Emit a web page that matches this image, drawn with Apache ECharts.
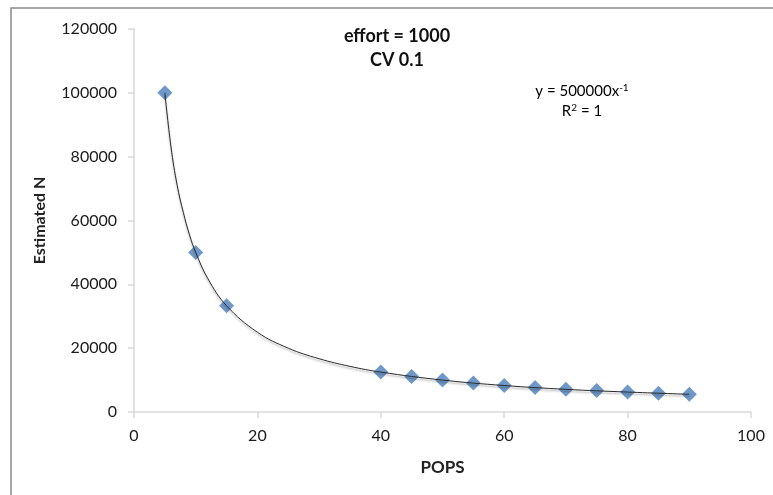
<!DOCTYPE html>
<html>
<head>
<meta charset="utf-8">
<script src="https://cdn.jsdelivr.net/npm/echarts@6/dist/echarts.min.js"></script>
<style>
    html, body { margin: 0; padding: 0; background: #fff; }
    #chart { width: 773px; height: 495px; }
</style>
</head>
<body>
<div id="chart"></div>
<script>
// data
var pops = [5, 10, 15, 40, 45, 50, 55, 60, 65, 70, 75, 80, 85, 90];
var estN = [100000, 50000, 33300, 12500, 11100, 10000, 9100, 8300, 7700, 7100, 6700, 6250, 5900, 5550];

// points
var trendX = [5, 6, 7, 8, 9, 10, 12, 15, 20, 25, 30, 35, 40, 50, 60, 70, 80, 90];
var trendY = [100000, 83000, 71000, 62500, 55500, 50000, 41700, 33300, 25000, 20000, 16700, 14300, 12500, 10000, 8300, 7100, 6250, 5550];

var xTicks = [0, 20, 40, 60, 80, 100];
var yTicks = [0, 20000, 40000, 60000, 80000, 100000, 120000];

var font = 'Lato, "Open Sans", sans-serif';

var chart = echarts.init(document.getElementById('chart'));

var points = [];
for (var i = 0; i < pops.length; i++) {
    points.push([pops[i], estN[i]]);
}
var trend = [];
for (var j = 0; j < trendX.length; j++) {
    trend.push([trendX[j], trendY[j]]);
}

var axisGray = '#d9d9d9';

var option = {
    animation: false,
    backgroundColor: '#fff',
    grid: { left: 134, right: 22, top: 29, bottom: 83 },
    xAxis: {
        type: 'value',
        min: xTicks[0],
        max: xTicks[xTicks.length - 1],
        interval: 20,
        name: 'POPS',
        nameLocation: 'middle',
        nameGap: 47,
        nameTextStyle: { fontFamily: font, fontSize: 17, fontWeight: 'bold', color: '#222' },
        axisLine: { show: true, lineStyle: { color: axisGray, width: 1.5 } },
        axisTick: { show: true, length: 6, lineStyle: { color: axisGray, width: 1.5 } },
        axisLabel: { fontFamily: font, fontSize: 16, color: '#1a1a1a', margin: 16 },
        splitLine: { show: false }
    },
    yAxis: {
        type: 'value',
        min: yTicks[0],
        max: yTicks[yTicks.length - 1],
        interval: 20000,
        name: 'Estimated N',
        nameLocation: 'middle',
        nameGap: 86,
        nameTextStyle: { fontFamily: font, fontSize: 16, fontWeight: 'bold', color: '#222' },
        axisLine: { show: true, lineStyle: { color: axisGray, width: 1.5 } },
        axisTick: { show: true, length: 6, lineStyle: { color: axisGray, width: 1.5 } },
        axisLabel: {
            fontFamily: font, fontSize: 16, color: '#1a1a1a', margin: 17,
            formatter: function (v) { return String(v); }
        },
        splitLine: { show: false }
    },
    graphic: [
        {
            type: 'rect',
            shape: { x: 11, y: 8, width: 800, height: 520 },
            style: { fill: 'none', stroke: '#8a8a8a', lineWidth: 1.5 },
            silent: true
        },
        {
            type: 'text',
            x: 397, y: 36,
            style: { text: 'effort = 1000', font: 'bold 18px ' + font, fill: '#111', textAlign: 'center', textVerticalAlign: 'middle' }
        },
        {
            type: 'text',
            x: 397, y: 60,
            style: { text: 'CV 0.1', font: 'bold 18px ' + font, fill: '#111', textAlign: 'center', textVerticalAlign: 'middle' }
        },
        {
            type: 'text',
            x: 582, y: 91,
            style: {
                text: '{a|y = 500000x}{s|-1}',
                textAlign: 'center', textVerticalAlign: 'middle',
                rich: {
                    a: { fontFamily: font, fontSize: 15, color: '#222' },
                    s: { fontFamily: font, fontSize: 10, color: '#222', verticalAlign: 'top', padding: [0, 0, 7, 0] }
                }
            }
        },
        {
            type: 'text',
            x: 582, y: 111,
            style: {
                text: '{a|R}{s|2}{a| = 1}',
                textAlign: 'center', textVerticalAlign: 'middle',
                rich: {
                    a: { fontFamily: font, fontSize: 15, color: '#222' },
                    s: { fontFamily: font, fontSize: 10, color: '#222', verticalAlign: 'top', padding: [0, 0, 7, 0] }
                }
            }
        }
    ],
    series: [
        {
            type: 'scatter',
            data: points,
            symbol: 'diamond',
            symbolSize: 15,
            itemStyle: { color: '#4a7ebb' },
            z: 2
        },
        {
            type: 'line',
            data: trend,
            smooth: 0.4,
            showSymbol: false,
            symbol: 'none',
            lineStyle: {
                color: '#2a2a2a',
                width: 1,
                shadowColor: 'rgba(0,0,0,0.35)',
                shadowBlur: 2,
                shadowOffsetY: 2
            },
            z: 3
        }
    ]
};

chart.setOption(option);
</script>
</body>
</html>
